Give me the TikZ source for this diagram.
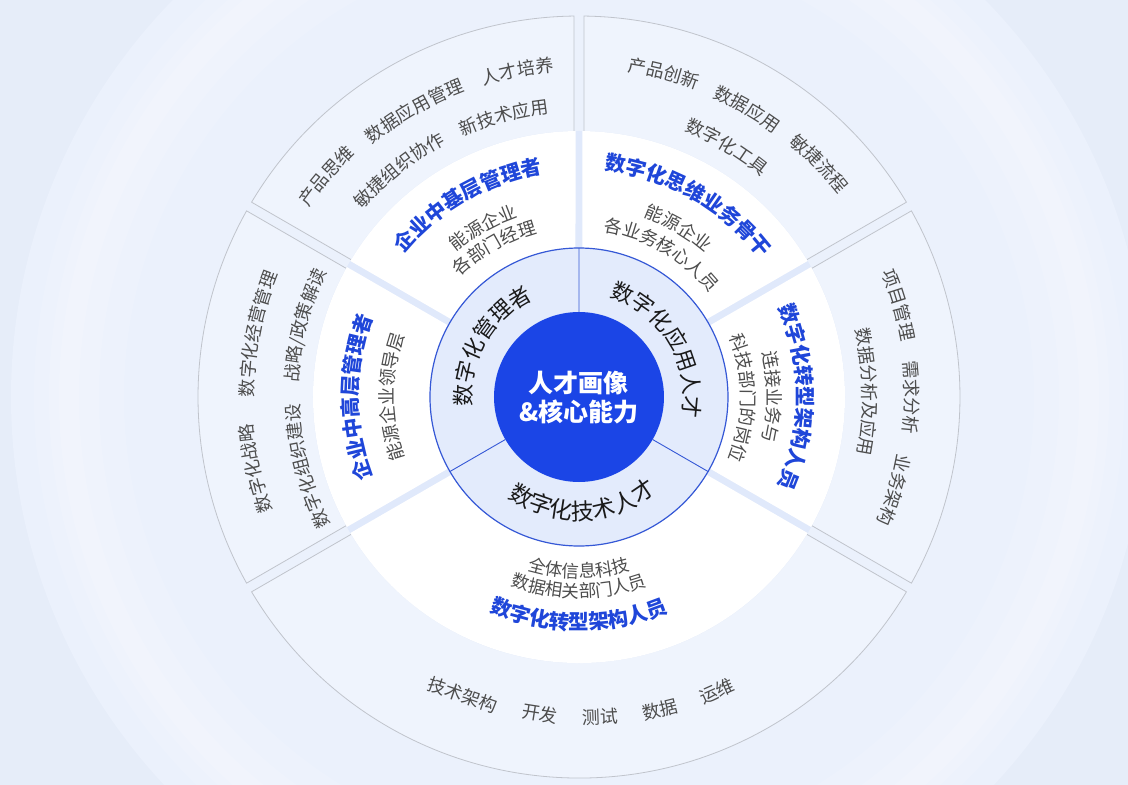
\documentclass[tikz,border=0pt]{standalone}
\usepackage{fontspec}
\setmainfont{Noto Sans CJK SC}
\usetikzlibrary{decorations.text}
\definecolor{bgc}{HTML}{E6EDF9}
\definecolor{bgtwo}{HTML}{EBF1FC}
\definecolor{ofill}{HTML}{EFF4FD}
\definecolor{oline}{HTML}{C0C4CC}
\definecolor{gapc}{HTML}{E0E9FB}
\definecolor{ringc}{HTML}{E3EBFC}
\definecolor{ringline}{HTML}{3558D6}
\definecolor{coreblue}{HTML}{1B45E6}
\definecolor{titleblue}{HTML}{1F46D9}
\definecolor{graytxt}{HTML}{4D4D4D}
\definecolor{darktxt}{HTML}{1A1A1A}
% text along a clockwise arc, glyph tops outward
% #1 angle, #2 centre radius of glyphs, #3 font size, #4 font code, #5 colour, #6 text
\newcommand\CWtext[6]{%
  \pgfmathsetmacro\myrb{#2-0.38*#3}%
  \pgfmathsetmacro\mysa{#1+60}%
  \pgfmathsetmacro\myea{#1-60}%
  \path[decorate,decoration={text along path,text align=center,text color=#5,
    text={|\fontsize{#3}{#3}\selectfont#4|#6}}]
    (\mysa:\myrb) arc[start angle=\mysa,end angle=\myea,radius=\myrb];}
% text along a counter-clockwise arc, glyph tops inward
\newcommand\CCWtext[6]{%
  \pgfmathsetmacro\myrb{#2+0.38*#3}%
  \pgfmathsetmacro\mysa{#1-60}%
  \pgfmathsetmacro\myea{#1+60}%
  \path[decorate,decoration={text along path,text align=center,text color=#5,
    text={|\fontsize{#3}{#3}\selectfont#4|#6}}]
    (\mysa:\myrb) arc[start angle=\mysa,end angle=\myea,radius=\myrb];}
% outer sector
\newcommand\osector[2]{%
  \pgfmathsetmacro\myoa{#1+asin(5/381)}\pgfmathsetmacro\myob{#2-asin(5/381)}%
  \pgfmathsetmacro\myia{#1+asin(5/266)}\pgfmathsetmacro\myib{#2-asin(5/266)}%
  \fill[ofill] (\myia:266) -- (\myoa:381) arc[start angle=\myoa,end angle=\myob,radius=381]
    -- (\myib:266) arc[start angle=\myib,end angle=\myia,radius=266] -- cycle;
  \draw[oline,line width=0.8] (\myia:266) -- (\myoa:381)
    arc[start angle=\myoa,end angle=\myob,radius=381] -- (\myib:266);}
% white sector
\newcommand\wsector[2]{%
  \pgfmathsetmacro\myoa{#1+asin(3.5/266)}\pgfmathsetmacro\myob{#2-asin(3.5/266)}%
  \pgfmathsetmacro\myia{#1+asin(3.5/140)}\pgfmathsetmacro\myib{#2-asin(3.5/140)}%
  \fill[white] (\myia:140) -- (\myoa:266) arc[start angle=\myoa,end angle=\myob,radius=266]
    -- (\myib:140) arc[start angle=\myib,end angle=\myia,radius=140] -- cycle;}
\tikzset{
  outerword/.style={text=graytxt,font=\fontsize{18}{18}\selectfont,inner sep=0pt},
  coretext/.style={text=white,font=\fontsize{25}{29}\selectfont\bfseries,align=center,inner sep=0pt}
}
\begin{document}
\begin{tikzpicture}[x=1pt,y=1pt]
\useasboundingbox (-579,-388) rectangle (549,397);
\fill[bgc] (-579,-388) rectangle (549,397);
\begin{scope}
  \clip (-579,-388) rectangle (549,397);
  \fill[bgtwo] (0,0) circle[radius=568];
  \draw[white,opacity=0.12,line width=90] (0,0) circle[radius=500];
  \draw[white,opacity=0.15,line width=50] (0,0) circle[radius=505];
  \draw[white,opacity=0.15,line width=20] (0,0) circle[radius=510];
\end{scope}
% outer sectors
\osector{90}{150}
\osector{30}{90}
\osector{150}{210}
\osector{-30}{30}
\osector{210}{330}
% ring under white sectors
\fill[gapc] (0,0) circle[radius=266];
\wsector{90}{150}
\wsector{30}{90}
\wsector{150}{210}
\wsector{-30}{30}
\wsector{210}{330}
% inner ring
\filldraw[fill=ringc,draw=ringline,line width=1.2] (0,0) circle[radius=149];
\draw[ringline,line width=0.9] (90:85) -- (90:149) (210:85) -- (210:149) (330:85) -- (330:149);
\fill[coreblue] (0,0) circle[radius=85];
\node[coretext] (core) at (0,-1) {人才画像\\\&核心能力};
% inner ring labels
\CWtext{150}{116}{22}{}{darktxt}{数字化管理者}
\CWtext{31}{113}{22}{}{darktxt}{数字化应用人才}
\CCWtext{272}{114}{23}{}{darktxt}{数字化技术人才}
% top-left white sector
\CWtext{120}{234}{20.5}{\bfseries}{titleblue}{企业中基层管理者}
\CWtext{119.5}{197}{18}{}{graytxt}{能源企业}
\CWtext{119.5}{176}{18}{}{graytxt}{各部门经理}
% top-right white sector
\CWtext{60.5}{236}{20.5}{\bfseries}{titleblue}{数字化思维业务骨干}
\CWtext{59.5}{198}{18}{}{graytxt}{能源企业}
\CWtext{60}{174}{18}{}{graytxt}{各业务核心人员}
% left white sector
\CWtext{180}{229}{20.5}{\bfseries}{titleblue}{企业中高层管理者}
\CWtext{180}{192}{18}{}{graytxt}{能源企业领导层}
% right white sector
\CWtext{0}{226}{20.5}{\bfseries}{titleblue}{数字化转型架构人员}
\CWtext{0}{195}{18}{}{graytxt}{连接业务与}
\CWtext{-0.5}{169}{18}{}{graytxt}{科技部门的岗位}
% bottom white sector
\CCWtext{270}{174}{17.5}{}{graytxt}{全体信息科技}
\CCWtext{270}{194}{17.5}{}{graytxt}{数据相关部门人员}
\CCWtext{270}{225}{20.5}{\bfseries}{titleblue}{数字化转型架构人员}
% outer top-left
\CWtext{138.8}{337}{18}{}{graytxt}{产品思维}
\CWtext{119.9}{333}{18}{}{graytxt}{数据应用管理}
\CWtext{100.7}{333}{18}{}{graytxt}{人才培养}
\CWtext{128.4}{293}{18}{}{graytxt}{敏捷组织协作}
\CWtext{105}{292}{18}{}{graytxt}{新技术应用}
% outer top-right
\CWtext{75.3}{336}{18}{}{graytxt}{产品创新}
\CWtext{59.7}{335}{18}{}{graytxt}{数据应用}
\CWtext{44.2}{336}{18}{}{graytxt}{敏捷流程}
\CWtext{59.4}{293}{18}{}{graytxt}{数字化工具}
% outer left
\CWtext{168.9}{332}{18}{}{graytxt}{数字化经营管理}
\CWtext{192.5}{334}{18}{}{graytxt}{数字化战略}
\CWtext{165.3}{288}{18}{}{graytxt}{战略/政策解读}
\CWtext{194.3}{286}{18}{}{graytxt}{数字化组织建设}
% outer right
\CWtext{16}{334}{18}{}{graytxt}{项目管理}
\CWtext{0}{333}{18}{}{graytxt}{需求分析}
\CWtext{-16.5}{330}{18}{}{graytxt}{业务架构}
\CWtext{1}{291}{18}{}{graytxt}{数据分析及应用}
% outer bottom
\node[outerword,rotate=-19] (w1) at (-116,-298) {技术架构};
\node[outerword,rotate=-9] (w2) at (-39,-317) {开发};
\node[outerword,rotate=2] (w3) at (21,-320) {测试};
\node[outerword,rotate=14] (w4) at (81,-313) {数据};
\node[outerword,rotate=24] (w5) at (138,-294) {运维};
\end{tikzpicture}
\end{document}
